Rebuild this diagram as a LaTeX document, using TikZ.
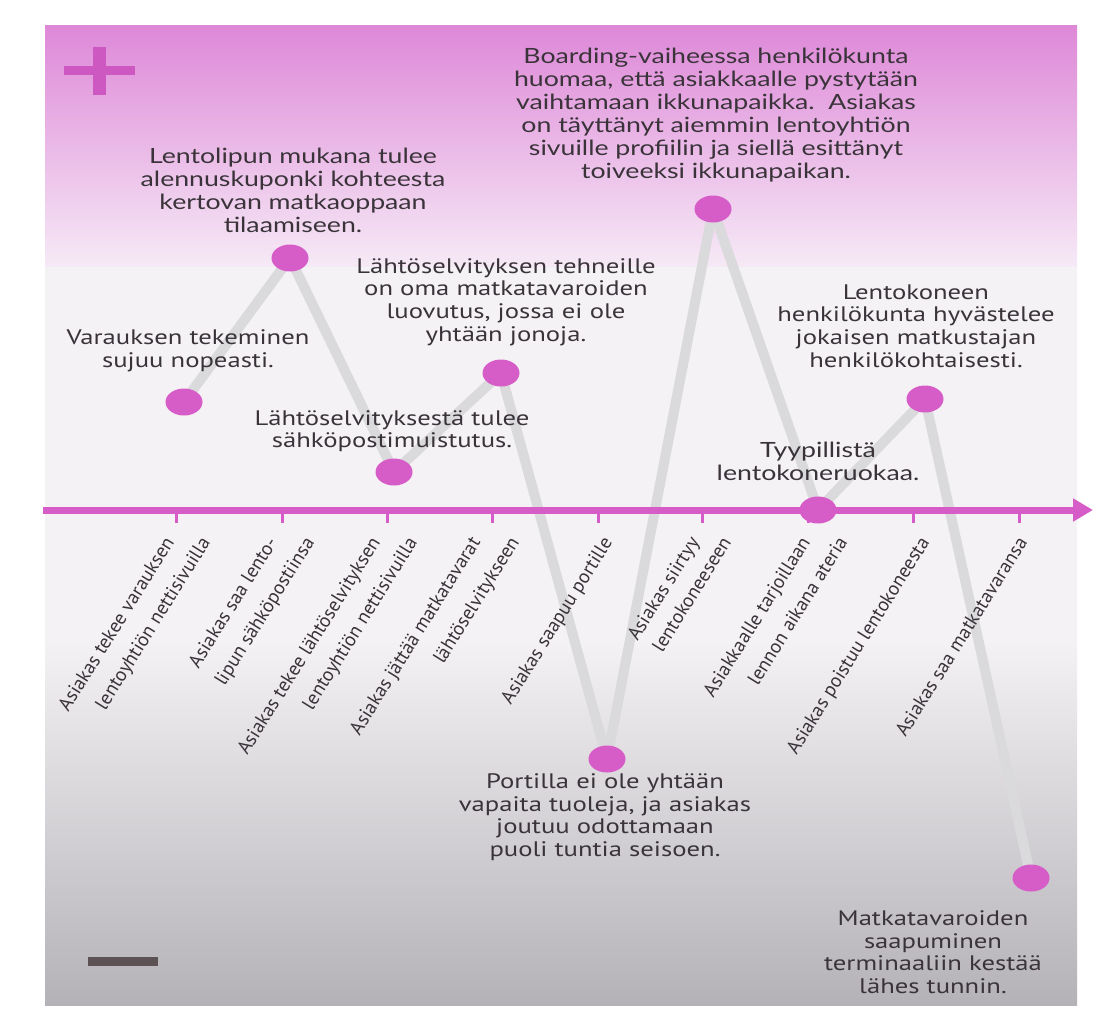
\documentclass[tikz,border=0pt]{standalone}
\usepackage{fontspec}
\setmainfont{PT Sans}
\newfontfamily\gillfont[FakeStretch=1.27]{Lato}
\newfontfamily\condfont[FakeStretch=1.27]{PT Sans}
\newfontfamily\labelfont{PT Sans}
\usetikzlibrary{positioning,shapes.geometric,arrows.meta,backgrounds}
\definecolor{dotpink}{RGB}{214,92,200}
\definecolor{pluspink}{RGB}{206,88,194}
\definecolor{bgpink}{RGB}{222,136,216}
\definecolor{bgpinkmid}{RGB}{237,186,234}
\definecolor{bgpinklight}{RGB}{246,234,246}
\definecolor{bgpale}{RGB}{244,242,244}
\definecolor{bggray}{RGB}{180,178,183}
\definecolor{pathgray}{RGB}{218,217,219}
\definecolor{textgray}{RGB}{58,52,58}
\definecolor{minusgray}{RGB}{92,82,84}

\tikzset{
  touch/.style={ellipse,fill=dotpink,minimum width=27.75pt,minimum height=20.25pt,inner sep=0pt},
  gilltext/.style={align=center,inner sep=0pt,text=textgray,font=\gillfont\fontsize{15.75}{17.25}\selectfont},
  condtext/.style={align=center,inner sep=0pt,text=textgray,font=\condfont\fontsize{15.75}{16.9}\selectfont},
  steplabel/.style={rotate=58,anchor=base east,inner sep=0pt,text=textgray,font=\labelfont\fontsize{14.6}{16}\selectfont},
  journey/.style={pathgray,line width=7.5pt,line join=round},
  timeline/.style={dotpink,line width=5.25pt,-{Triangle[length=15pt,width=16.5pt]}},
  tickmark/.style={dotpink,line width=2.25pt}
}

\begin{document}
\begin{tikzpicture}[x=0.75pt,y=-0.75pt]
    \useasboundingbox (0,0) rectangle (1094,1011);

    % touchpoints
    \node[touch] (d1) at (184,402) {};
    \node[touch] (d2) at (290,258) {};
    \node[touch] (d3) at (394,472) {};
    \node[touch] (d4) at (501,373) {};
    \node[touch] (d5) at (607,759) {};
    \node[touch] (d6) at (713,209) {};
    \node[touch] (d7) at (818,510) {};
    \node[touch] (d8) at (925,399) {};
    \node[touch] (d9) at (1031,878) {};

    \begin{scope}[on background layer]
        % page and bands
        \fill[white] (0,0) rectangle (1094,1011);
        \shade[top color=bgpink,middle color=bgpinkmid,bottom color=bgpinklight] (45,25) rectangle (1077,268);
        \fill[bgpale] (45,267) rectangle (1077,640);
        \shade[top color=bgpale,bottom color=bggray] (45,639) rectangle (1077,1005);
        % plus and minus
        \fill[pluspink] (64,66) rectangle (135,75);
        \fill[pluspink] (93,47) rectangle (106,95);
        \fill[minusgray] (88,957) rectangle (158,966);
        % experience line
        \draw[journey] (d1.center) -- (d2.center) -- (d3.center) -- (d4.center) -- (d5.center)
            -- (d6.center) -- (d7.center) -- (d8.center) -- (d9.center);
        % time axis
        \draw[timeline] (43,510) -- (1093,510);
        \foreach \x in {176,282,387,492,598,702,808,913,1019}
            \draw[tickmark] (\x,509) -- (\x,523);
    \end{scope}

    % experiences
    \node[condtext] (n1) at (188,351) {Varauksen tekeminen\\sujuu nopeasti.};
    \node[gilltext] (n2) at (293,190) {Lentolipun mukana tulee\\alennuskuponki kohteesta\\kertovan matkaoppaan\\tilaamiseen.};
    \node[condtext] (n3) at (392,431) {Lähtöselvityksestä tulee\\sähköpostimuistutus.};
    \node[condtext] (n4) at (506,302) {Lähtöselvityksen tehneille\\on oma matkatavaroiden\\luovutus, jossa ei ole\\yhtään jonoja.};
    \node[condtext] (n5) at (605,817) {Portilla ei ole yhtään\\vapaita tuoleja, ja asiakas\\joutuu odottamaan\\puoli tuntia seisoen.};
    \node[gilltext] (n6) at (716,115) {Boarding-vaiheessa henkilökunta\\huomaa, että asiakkaalle pystytään\\vaihtamaan ikkunapaikka.\ \ Asiakas\\on täyttänyt aiemmin lentoyhtiön\\sivuille profiilin ja siellä esittänyt\\toiveeksi ikkunapaikan.};
    \node[gilltext] (n7) at (818,461) {Tyypillistä\\lentokoneruokaa.};
    \node[condtext] (n8) at (916,326) {Lentokoneen\\henkilökunta hyvästelee\\jokaisen matkustajan\\henkilökohtaisesti.};
    \node[condtext] (n9) at (933,952) {Matkatavaroiden\\saapuminen\\terminaaliin kestää\\lähes tunnin.};

    % process steps under the axis
    \foreach \x/\t [count=\i] in {175/Asiakas tekee varauksen, 211/lentoyhtiön nettisivuilla,
        278/Asiakas saa lento-, 315/lipun sähköpostiinsa,
        381/Asiakas tekee lähtöselvityksen, 418/lentoyhtiön nettisivuilla,
        481/Asiakas jättää matkatavarat, 520/lähtöselvitykseen,
        613/Asiakas saapuu portille,
        700/Asiakas siirtyy, 732/lentokoneeseen,
        811/Asiakkaalle tarjoillaan, 848/lennon aikana ateria,
        930/Asiakas poistuu lentokoneesta,
        1028/Asiakas saa matkatavaransa}
        \node[steplabel] (s\i) at (\x,542) {\t};
\end{tikzpicture}
\end{document}
